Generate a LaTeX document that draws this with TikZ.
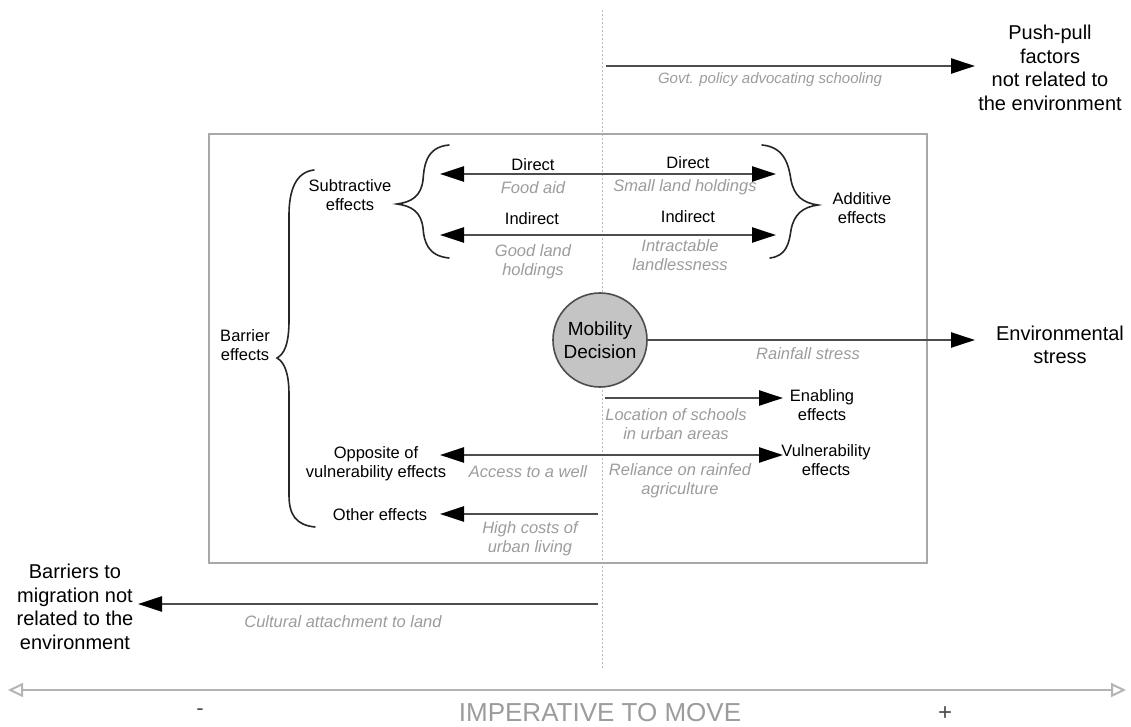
\documentclass[tikz,border=0pt]{standalone}
\usepackage{fontspec}
\setmainfont{Liberation Sans}
\usetikzlibrary{arrows.meta}

\definecolor{shaft}{HTML}{4D4D4D}
\definecolor{notegray}{HTML}{9C9C9C}
\definecolor{frame}{HTML}{A8A8A8}
\definecolor{disc}{HTML}{C4C4C4}
\definecolor{axisgray}{HTML}{B4B4B4}

\begin{document}
\begin{tikzpicture}[x=1pt,y=-1pt,
  lab/.style={font=\fontsize{16.5}{19}\selectfont, align=center, inner sep=0pt},
  note/.style={font=\fontsize{16.5}{19}\selectfont\itshape, text=notegray, align=center, inner sep=0pt},
  outer/.style={font=\fontsize{20}{23.5}\selectfont, align=center, inner sep=0pt},
  force/.style={draw=shaft, line width=2.5pt, -{Triangle[length=24pt,width=15pt,color=black]}},
  dforce/.style={draw=shaft, line width=2.5pt, {Triangle[length=24pt,width=15pt,color=black]}-{Triangle[length=24pt,width=15pt,color=black]}},
  brace/.style={draw=black!85, line width=1.6pt, line cap=round},
]
\useasboundingbox (0,0) rectangle (1131,727);

% central axis of the imperative to move
\draw[draw=notegray!70, line width=0.9pt, dash pattern=on 2pt off 2pt] (602,10) -- (602,668);

% inner frame
\draw[frame, line width=1.5pt] (209,134) rectangle (927,563);

% outer labels
\node[outer] (pushpull) at (1050,68) {Push-pull\\factors\\not related to\\the environment};
\node[outer] (envstress) at (1060,345) {Environmental\\stress};
\node[outer] (barriers) at (75,607) {Barriers to\\migration not\\related to the\\environment};

% mobility decision
\node[circle, draw=shaft, line width=1.6pt, fill=disc, minimum size=94pt, inner sep=0pt,
      font=\fontsize{19}{23}\selectfont, align=center] (dm) at (600,340) {Mobility\\Decision};

% effect labels
\node[lab] (subtr) at (350,195) {Subtractive\\effects};
\node[lab] (addit) at (862,208) {Additive\\effects};
\node[lab] (barrier) at (245,345) {Barrier\\effects};
\node[lab] (opp) at (376,464) {Opposite of\\vulnerability effects};
\node[lab] (other) at (380,515) {Other effects};
\node[lab] (enab) at (822,405) {Enabling\\effects};
\node[lab] (vuln) at (826,460) {Vulnerability\\effects};
\node[lab] (dirL) at (533,165) {Direct};
\node[lab] (dirR) at (688,163) {Direct};
\node[lab] (indL) at (532,219) {Indirect};
\node[lab] (indR) at (688,217) {Indirect};

% example labels
\node[note] (food) at (533,188) {Food aid};
\node[note] (small) at (685,187) {Small land holdings};
\node[note] (good) at (533,262) {Good land\\holdings};
\node[note] (intr) at (680,255) {Intractable\\landlessness};
\node[note] (rain) at (808,354) {Rainfall stress};
\node[note] (school) at (676,424) {Location of schools\\in urban areas};
\node[note] (well) at (528,472) {Access to a well};
\node[note] (rely) at (680,481) {Reliance on rainfed\\agriculture};
\node[note] (cost) at (530,539) {High costs of\\urban living};
\node[note, font=\fontsize{15}{18}\selectfont\itshape] (govt) at (770,80) {Govt. policy advocating schooling};
\node[note] (cult) at (343,622) {Cultural attachment to land};

% arrow end points
\coordinate (gov-a) at (606,66);   \coordinate (gov-b) at (975,66);
\coordinate (dir-a) at (440,174);  \coordinate (dir-b) at (776,174);
\coordinate (ind-a) at (440,235);  \coordinate (ind-b) at (776,235);
\coordinate (env-b) at (975,340);
\coordinate (enab-a) at (605,398); \coordinate (enab-b) at (783,398);
\coordinate (vul-a) at (440,455);  \coordinate (vul-b) at (783,455);
\coordinate (oth-a) at (598,514);  \coordinate (oth-b) at (440,514);
\coordinate (cul-a) at (598,604);  \coordinate (cul-b) at (138,604);
\coordinate (ax-a) at (8,690);     \coordinate (ax-b) at (1126,690);

% forces
\draw[force] (gov-a) -- (gov-b);
\draw[dforce] (dir-a) -- (dir-b);
\draw[dforce] (ind-a) -- (ind-b);
\draw[force] (dm.east |- env-b) -- (env-b);
\draw[force] (enab-a) -- (enab-b);
\draw[dforce] (vul-a) -- (vul-b);
\draw[force] (oth-a) -- (oth-b);
\draw[force] (cul-a) -- (cul-b);

% braces
\draw[brace] (449,145) .. controls (425,147) and (424,168) .. (423,180)
  .. controls (421,196) and (412,202) .. (397,204)
  .. controls (412,206) and (421,212) .. (423,228)
  .. controls (424,242) and (428,256) .. (449,258);
\draw[brace] (762,145) .. controls (786,147) and (789,168) .. (791,180)
  .. controls (794,196) and (803,203) .. (818,205)
  .. controls (803,207) and (794,214) .. (791,230)
  .. controls (789,244) and (786,256) .. (770,258);
\draw[brace] (314,170) .. controls (296,172) and (289,190) .. (289,215) -- (289,320)
  .. controls (289,345) and (284,354) .. (277,358)
  .. controls (284,362) and (289,372) .. (289,395) -- (289,495)
  .. controls (289,515) and (296,525) .. (315,527);

% imperative-to-move axis
\draw[axisgray, line width=2pt, {Triangle[open,length=15pt,width=14pt,fill=white]}-{Triangle[open,length=15pt,width=14pt,fill=white]}] (ax-a) -- (ax-b);
\node[font=\fontsize{22}{26}\selectfont, text=shaft, inner sep=0pt] (minus) at (200,712) {-};
\node[font=\fontsize{26}{30}\selectfont, text=notegray, inner sep=0pt] (imper) at (600,713) {IMPERATIVE TO MOVE};
\node[font=\fontsize{24}{28}\selectfont, text=shaft, inner sep=0pt] (plus) at (945,714) {+};
\end{tikzpicture}
\end{document}
